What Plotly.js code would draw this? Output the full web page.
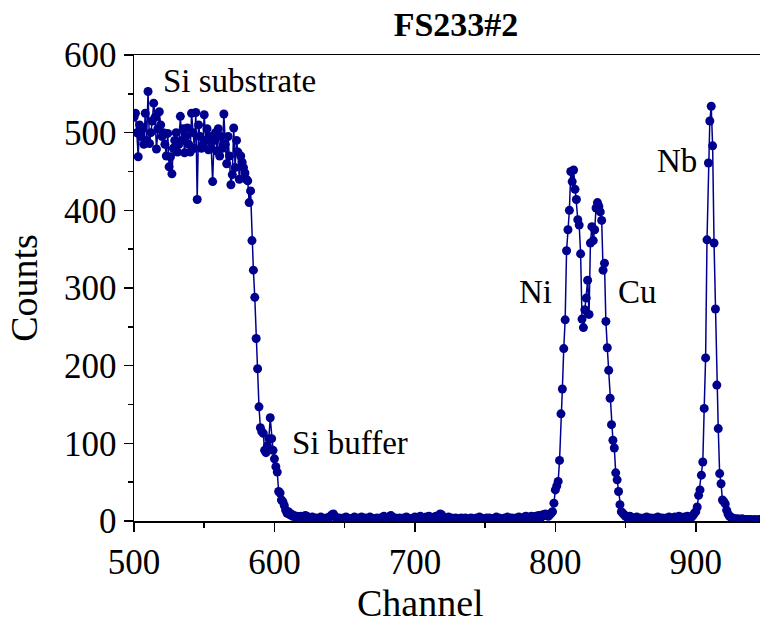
<!DOCTYPE html>
<html>
<head>
<meta charset="utf-8">
<script src="https://cdn.plot.ly/plotly-3.0.1.min.js"></script>
<style>html,body{margin:0;padding:0;overflow:hidden;background:#fff;}</style>
</head>
<body>
<div id="chart"></div>
<script>
// Counts read channel by channel from the spectrum, grouped by region
const substrateStart = 500;
const substrateCounts = [
  520,525,500,469,510,495,505,485,525,490,
  553,486,500,515,538,520,479,505,527,510,
  495,500,485,470,499,456,469,447,480,490,
  500,475,485,521,490,505,474,495,506,485,
  475,525,500,480,526,414,510,495,480,485,
  523,490,505,478,495,480,437,490,500,476,
  505,470,495,480,524,485,460,495,470,433,
  446,506,455,490,475,440,470,462,455,448,
  440,438,410,425];
const edgeStart = 584;
const edgeCounts = [
  361,323,288,235,196,147,120,115,113,91,
  88,97,106,133,106,91,80,70,63,38,
  36,27,25,20,14,10,12,8];
const baselineStart = 612;
const baselineCounts = [
  9,6,7,5,6,4,5,6,4,5,
  7,6,5,4,3,5,4,3,4,2,
  3,5,4,3,2,4,3,5,6,8,
  9,6,4,3,4,2,3,4,3,5,
  4,3,2,3,4,5,3,2,4,3,
  5,4,3,4,2,3,5,4,3,2,
  3,4,3,2,4,5,6,4,3,4,
  6,7,5,3,4,2,3,4,3,2,
  4,3,5,4,3,2,3,4,5,4,
  3,5,6,4,3,4,5,4,6,5,
  4,3,5,6,4,7,9,8,5,4,
  3,4,5,3,4,2,3,4,3,2,
  3,4,2,3,4,3,2,3,4,3,
  2,3,4,3,5,4,3,2,3,4,
  3,4,3,2,3,4,5,3,4,3,
  2,3,4,3,5,4,3,4,2,3,
  4,3,5,4,3,4,5,6,4,5,
  4,6,5,4,6,5,7,6,5,8,
  7,9,8];
const niCuStart = 795;
const niCuCounts = [
  6,8,10,12,23,40,45,51,78,138,
  170,222,259,348,375,400,450,437,452,427,
  414,388,381,344,260,249,272,287,310,266,
  358,379,361,375,403,410,405,398,387,323,
  332,257,223,194,158,124,104,94,62,53,
  38,21,12,10,8,6];
const gapStart = 851;
const gapCounts = [
  5,4,6,5,4,3,4,5,3,4,
  3,2,4,3,5,4,3,4,2,3,
  4,3,5,4,3,4,2,3,4,3,
  5,4,3,4,5,3,4,6,5,4,
  3,5,4,6,5];
const nbStart = 896;
const nbCounts = [
  4,5,7,10,12,18,33,40,59,76,
  145,210,362,461,515,534,483,358,273,175,
  119,61,48,27,25,22,14,9,6,5,
  4,3,3,2,3,2,2,3,2,1,
  2,2,1,2,1,1,2,1,1,2,
  1,1,1,2,1];

const segments = [
  [substrateStart, substrateCounts],
  [edgeStart, edgeCounts],
  [baselineStart, baselineCounts],
  [niCuStart, niCuCounts],
  [gapStart, gapCounts],
  [nbStart, nbCounts]
];
const channel = [], counts = [];
segments.forEach(([start, vals]) => {
  vals.forEach((v, i) => { channel.push(start + i); counts.push(v); });
});

const navy = '#00008f';
const serif = 'Liberation Serif, Times New Roman, serif';

const trace = {
  x: channel, y: counts,
  type: 'scatter', mode: 'lines+markers',
  line: {color: navy, width: 1.5},
  marker: {color: navy, size: 9, line: {width: 0}},
  hoverinfo: 'x+y', showlegend: false
};

const labelFont = {family: serif, size: 33, color: '#000'};
const layout = {
  width: 768, height: 626,
  margin: {l: 134, r: 2, t: 55, b: 105},
  paper_bgcolor: '#fff', plot_bgcolor: '#fff',
  title: {text: '<b>FS233#2</b>', font: {family: serif, size: 34, color: '#000'},
          x: (456 - 134) / 632, xref: 'paper', y: 0.962, yref: 'container', xanchor: 'center', yanchor: 'middle'},
  xaxis: {
    range: [500, 950], showgrid: false, zeroline: false,
    showline: true, linecolor: '#000', linewidth: 1.5, mirror: true,
    ticks: 'outside', ticklen: 9, tickwidth: 1.5, tickcolor: '#000',
    tick0: 500, dtick: 100,
    minor: {ticks: 'outside', ticklen: 5, tickwidth: 1.5, tickcolor: '#000', dtick: 50, showgrid: false},
    tickfont: {family: serif, size: 35, color: '#000'},
    title: {text: ''}
  },
  yaxis: {
    range: [0, 600], showgrid: false, zeroline: false,
    showline: true, linecolor: '#000', linewidth: 1.5, mirror: false,
    ticks: 'outside', ticklen: 9, tickwidth: 1.5, tickcolor: '#000',
    tick0: 0, dtick: 100,
    minor: {ticks: 'outside', ticklen: 5, tickwidth: 1.5, tickcolor: '#000', dtick: 50, showgrid: false},
    tickfont: {family: serif, size: 35, color: '#000'},
    title: {text: 'Counts', font: {family: serif, size: 38, color: '#000'}, standoff: 14}
  },
  annotations: [
    {text: 'Channel', xref: 'paper', yref: 'paper', x: (420 - 134) / 632, y: -0.177,
     xanchor: 'center', yanchor: 'middle', showarrow: false, font: {family: serif, size: 38, color: '#000'}},
    {text: 'Si substrate', x: 519, y: 566, xanchor: 'left', yanchor: 'middle', showarrow: false, font: labelFont},
    {text: 'Si buffer', x: 611, y: 100, xanchor: 'left', yanchor: 'middle', showarrow: false, font: labelFont},
    {text: 'Ni', x: 799, y: 295, xanchor: 'right', yanchor: 'middle', showarrow: false, font: labelFont},
    {text: 'Cu', x: 843.5, y: 295, xanchor: 'left', yanchor: 'middle', showarrow: false, font: labelFont},
    {text: 'Nb', x: 902, y: 463, xanchor: 'right', yanchor: 'middle', showarrow: false, font: labelFont}
  ]
};

Plotly.newPlot('chart', [trace], layout, {staticPlot: true, displayModeBar: false});
</script>
</body>
</html>
